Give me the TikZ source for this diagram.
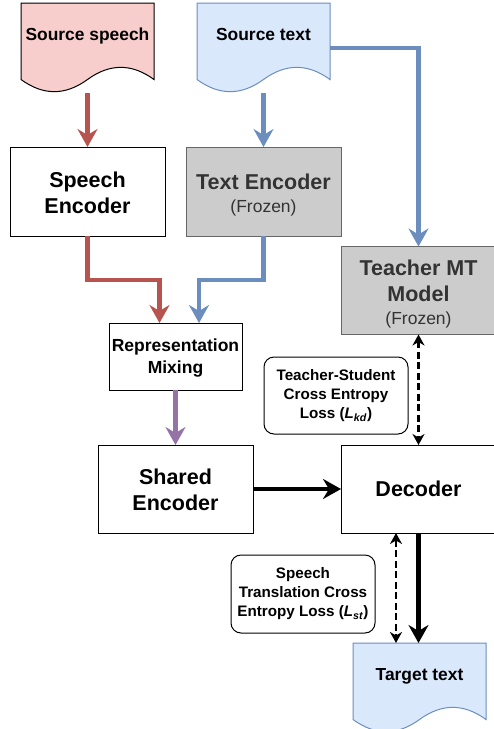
\documentclass[tikz,border=0pt]{standalone}
\usepackage{fontspec}
\setmainfont{Liberation Sans}
\usetikzlibrary{arrows.meta,calc}
\definecolor{redc}{HTML}{B85450}
\definecolor{bluec}{HTML}{6C8EBF}
\definecolor{purplec}{HTML}{9673A6}
\definecolor{pinkfill}{HTML}{F8CECC}
\definecolor{bluefill}{HTML}{DAE8FC}
\definecolor{greyfill}{HTML}{CCCCCC}
\definecolor{greydraw}{HTML}{666666}
\definecolor{greytext}{HTML}{333333}
\newcommand{\docshape}[5]{%
  \filldraw[fill=#4, draw=#5, line width=1pt] (#1,#2) -- ({#1+#3},#2) -- ({#1+#3},{#2+76.5})
   .. controls ({#1+#3*5/6},{#2+60.3}) and ({#1+#3*2/3},{#2+60.3}) .. ({#1+#3/2},{#2+76.5})
   .. controls ({#1+#3/3},{#2+92.7}) and ({#1+#3/6},{#2+92.7}) .. (#1,{#2+76.5}) -- cycle;}
\newcommand{\frozen}{{\mdseries\fontsize{17.5}{21}\selectfont(Frozen)}}
\newcommand{\pushdown}[1]{\rule{0pt}{#1}}
\begin{document}
\begin{tikzpicture}[x=1pt,y=-1pt,
  box/.style={draw=black, line width=1pt, fill=white, inner sep=0pt, outer sep=0pt,
    align=center, font=\bfseries\fontsize{21.5}{26}\selectfont, text=black, anchor=north west},
  greybox/.style={box, fill=greyfill, draw=greydraw, text=greytext},
  lossbox/.style={draw=black, line width=1pt, rounded corners=10pt, fill=white, inner sep=0pt,
    outer sep=0pt, align=center, font=\bfseries\fontsize{15.2}{19}\selectfont,
    minimum width=144pt, minimum height=77pt, anchor=north west},
  docnode/.style={inner sep=0pt, outer sep=0pt, minimum width=133pt, minimum height=90pt, anchor=north west},
  doctext/.style={font=\bfseries\fontsize{17.4}{21}\selectfont, anchor=base},
  fat/.style={line width=4.2pt, -{Stealth[length=18pt,width=20pt,inset=6pt]}},
  dasharrow/.style={line width=2.2pt, dash pattern=on 7pt off 3.5pt,
    {Stealth[length=11pt,width=12pt,inset=3.5pt]}-{Stealth[length=11pt,width=12pt,inset=3.5pt]}}
]
\useasboundingbox (0,0) rectangle (494,729);

% documents
\docshape{21}{3}{133}{pinkfill}{black}
\node[docnode] (srcsp) at (21,3) {};
\node[doctext] (srcsptext) at (87.5,40.7) {Source speech};

\docshape{197}{3}{133}{bluefill}{bluec}
\node[docnode] (srctxt) at (197,3) {};
\node[doctext] (srctxttext) at (263.5,40.7) {Source text};

\docshape{353}{643}{133}{bluefill}{bluec}
\node[docnode] (tgt) at (353,643) {};
\node[doctext] (tgttext) at (419.5,680) {Target text};

% boxes
\node[box, minimum width=155pt, minimum height=89pt] (spenc) at (10,147) {\pushdown{19pt}Speech\\Encoder};
\node[greybox, minimum width=155pt, minimum height=89pt] (txenc) at (186,147) {\pushdown{22pt}Text Encoder\\[-3pt]\frozen};
\node[greybox, minimum width=155pt, minimum height=88pt] (teacher) at (341,246.5) {\pushdown{23pt}Teacher MT\\Model\\[-3pt]\frozen};
\node[box, minimum width=133pt, minimum height=67pt, font=\bfseries\fontsize{17.5}{21.5}\selectfont] (mix) at (109,323) {\pushdown{16pt}Representation\\Mixing};
\node[box, minimum width=155pt, minimum height=88pt] (shenc) at (98,445) {\pushdown{18pt}Shared\\Encoder};
\node[box, minimum width=155pt, minimum height=88pt] (dec) at (341,445) {Decoder};

\node[lossbox] (tsloss) at (264,357) {Teacher-Student\\Cross Entropy\\Loss (\textit{L}\textsubscript{\textit{kd}})};
\node[lossbox, minimum height=78pt] (stloss) at (231,555) {Speech\\Translation Cross\\Entropy Loss (\textit{L}\textsubscript{\textit{st}})};

% connectors
\draw[fat, redc] (srcsp.south) -- (spenc.north);
\draw[fat, bluec] (srctxt.south) -- (txenc.north);
\draw[fat, bluec] (srctxt.east) -| (teacher.north);
\draw[fat, redc] (spenc.south) -- ++(0,44) -| ([xshift=-16pt]mix.north);
\draw[fat, bluec] (txenc.south) -- ++(0,44) -| ([xshift=23.5pt]mix.north);
\draw[fat, purplec] (mix.south) -- (shenc.north);
\draw[fat, black] (shenc.east) -- (dec.west);
\draw[dasharrow] (teacher.south) -- (dec.north);
\draw[fat, black] (dec.south) -- (dec.south |- tgt.north);
\coordinate (dl) at ([xshift=-22.5pt]dec.south);
\draw[dasharrow] (dl) -- (dl |- tgt.north);
\end{tikzpicture}
\end{document}
